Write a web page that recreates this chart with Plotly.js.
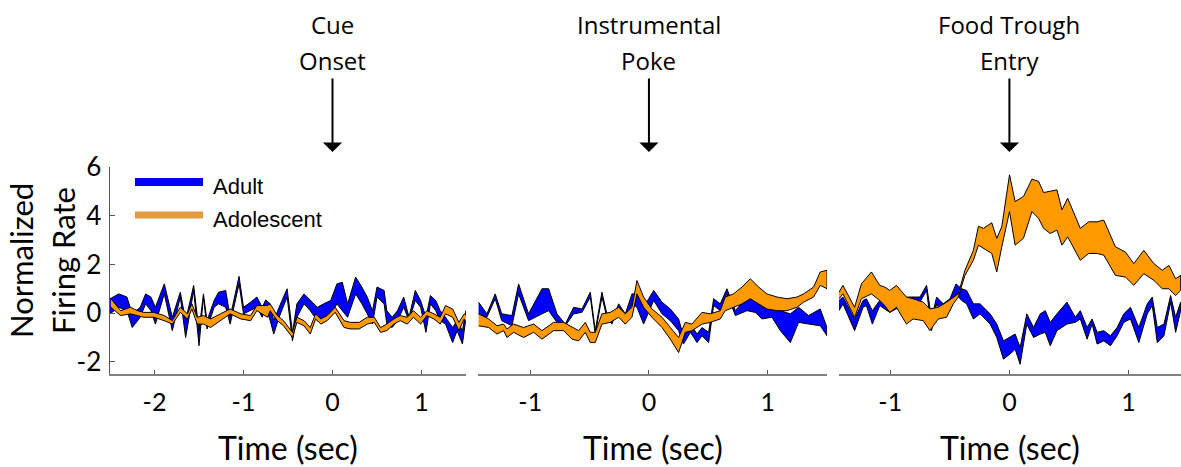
<!DOCTYPE html>
<html>
<head>
<meta charset="utf-8">
<script src="https://cdn.plot.ly/plotly-3.0.1.min.js"></script>
<style>html,body{margin:0;padding:0;background:#fff;}#chart{width:1181px;height:467px;}</style>
</head>
<body>
<div id="chart"></div>
<script>
// ---------- DATA (time in sec, normalized firing rate: upper / lower band edges) ----------
// Panel 1: Cue Onset
const cueAdultT  = [-2.50,-2.40,-2.31,-2.25,-2.16,-2.10,-2.04,-1.99,-1.89,-1.80,-1.71,-1.65,-1.56,-1.50,-1.45,-1.41,-1.33,-1.28,-1.20,-1.15,-1.05,-1.00,-0.92,-0.85,-0.79,-0.75,-0.70,-0.66,-0.60,-0.51,-0.45,-0.40,-0.32,-0.25,-0.17,-0.10,-0.02,0.05,0.11,0.17,0.26,0.33,0.39,0.45,0.50,0.58,0.61,0.67,0.73,0.80,0.86,0.93,0.99,1.05,1.10,1.16,1.21,1.27,1.35,1.40,1.46,1.50];
const cueAdultHi = [0.59,0.79,0.66,-0.03,0.24,0.79,0.66,0.24,1.20,-0.17,0.86,-0.31,1.14,-0.72,0.79,-0.31,0.52,0.86,0.93,-0.17,1.51,0.24,0.45,0.66,0.24,0.54,0.38,-0.31,0.24,1.00,-0.79,0.38,0.79,0.52,0.24,0.38,0.52,1.20,1.27,0.38,1.48,1.07,0.66,0.10,1.07,0.93,0.10,-0.17,0.10,0.66,-0.17,0.93,0.52,-0.17,0.72,0.52,0.10,-0.17,-0.59,-0.31,-0.72,0.10];
const cueAdultLo = [-0.03,0.24,0.10,-0.59,-0.17,0.38,0.10,-0.45,0.79,-0.72,0.66,-1.00,0.93,-1.34,0.66,-0.65,0.24,0.38,0.24,-0.45,1.20,-0.03,0.10,0.24,-0.17,0.24,-0.31,-0.86,-0.17,0.66,-1.14,-0.17,0.38,0.10,-0.31,-0.17,-0.03,0.38,0.10,-0.17,0.79,0.38,-0.03,-0.45,0.66,0.38,-0.45,-0.59,-0.31,0.24,-0.31,0.52,0.24,-0.79,0.38,0.10,-0.31,-0.45,-1.21,-0.72,-1.27,-0.17];

const cueAdolT  = [-2.49,-2.38,-2.27,-2.19,-2.12,-2.01,-1.89,-1.80,-1.71,-1.63,-1.58,-1.52,-1.45,-1.37,-1.26,-1.15,-1.03,-0.92,-0.85,-0.73,-0.70,-0.62,-0.55,-0.45,-0.40,-0.32,-0.25,-0.19,-0.13,-0.06,0.03,0.13,0.20,0.30,0.39,0.47,0.54,0.61,0.69,0.76,0.84,0.91,0.99,1.06,1.14,1.21,1.27,1.35,1.42,1.48,1.51];
const cueAdolHi = [0.59,0.10,0.24,0.10,0.03,0.03,-0.10,-0.31,0.24,-0.03,0.38,-0.17,-0.10,-0.24,-0.03,0.17,-0.03,-0.10,0.31,0.31,0.38,-0.10,-0.31,-0.79,-0.17,-0.31,-0.59,-0.03,-0.24,-0.10,0.24,-0.31,-0.38,-0.38,-0.17,-0.17,-0.59,-0.45,-0.24,-0.10,-0.17,0.10,-0.17,0.10,-0.03,-0.17,0.31,0.17,-0.38,-0.03,-0.10];
const cueAdolLo = [0.24,-0.10,-0.03,-0.10,-0.17,-0.17,-0.31,-0.45,0.03,-0.24,0.17,-0.45,-0.45,-0.59,-0.31,-0.03,-0.24,-0.31,0.10,-0.17,0.10,-0.31,-0.52,-1.00,-0.38,-0.52,-0.86,-0.24,-0.45,-0.31,0.03,-0.59,-0.65,-0.65,-0.45,-0.38,-0.79,-0.72,-0.45,-0.31,-0.45,-0.17,-0.45,-0.10,-0.24,-0.45,-0.03,-0.17,-0.72,-0.24,-0.45];

// Panel 2: Instrumental Poke
const pokeAdultT  = [-1.435,-1.365,-1.295,-1.24,-1.154,-1.098,-1.014,-0.901,-0.845,-0.775,-0.705,-0.634,-0.564,-0.494,-0.452,-0.396,-0.354,-0.312,-0.255,-0.199,-0.143,-0.101,-0.045,0.04,0.11,0.18,0.25,0.29,0.35,0.405,0.447,0.503,0.545,0.601,0.657,0.728,0.826,0.896,0.952,1.036,1.107,1.191,1.261,1.345,1.443,1.50];
const pokeAdultHi = [0.45,-0.03,0.79,-0.03,-0.10,1.20,-0.03,1.00,1.00,-0.03,-0.45,0.24,0.17,0.86,-0.72,0.86,-0.03,-0.31,0.38,-0.03,0.79,0.79,0.24,0.93,0.45,0.17,-0.24,-0.93,-0.45,-0.86,-0.59,-0.79,0.59,0.38,1.00,0.10,0.66,0.66,0.24,0.24,0.10,-0.03,0.24,-0.10,0.17,-0.59];
const pokeAdultLo = [-0.03,-0.17,0.59,-0.31,-0.52,0.79,-0.31,-0.03,0.10,-0.38,-0.52,-0.03,0.03,0.66,-0.86,0.66,-0.17,-0.45,0.24,-0.45,0.38,0.24,-0.45,0.52,-0.03,-0.31,-0.72,-1.27,-0.79,-1.21,-0.93,-1.21,0.31,0.10,0.79,-0.10,0.10,0.03,-0.24,-0.17,-0.72,-1.21,-0.38,-0.45,-0.52,-0.93];

const pokeAdolT  = [-1.435,-1.35,-1.28,-1.224,-1.196,-1.14,-1.056,-0.971,-0.901,-0.803,-0.719,-0.648,-0.592,-0.536,-0.494,-0.452,-0.396,-0.326,-0.255,-0.199,-0.143,-0.101,-0.045,0.025,0.11,0.18,0.25,0.306,0.362,0.447,0.517,0.601,0.643,0.713,0.784,0.854,0.924,0.994,1.079,1.163,1.247,1.303,1.387,1.443,1.50];
const pokeAdolHi = [-0.03,-0.24,-0.52,-0.45,-0.65,-0.45,-0.59,-0.45,-0.72,-0.38,-0.38,-0.59,-0.72,-0.38,-0.79,-0.79,-0.03,0.03,0.24,-0.03,0.24,1.34,0.66,0.17,-0.17,-0.59,-1.00,-0.38,-0.45,0.03,-0.03,0.10,0.66,0.79,1.07,1.41,1.07,0.79,0.66,0.59,0.66,0.79,1.07,1.69,1.76];
const pokeAdolLo = [-0.52,-0.59,-0.86,-0.72,-1.00,-0.79,-1.00,-0.79,-1.07,-0.72,-0.72,-1.07,-1.14,-0.79,-1.21,-1.21,-0.45,-0.38,-0.17,-0.45,-0.17,0.79,0.24,-0.17,-0.59,-1.07,-1.62,-0.79,-0.72,-0.45,-0.38,-0.24,0.10,0.24,0.38,0.59,0.38,0.17,0.10,0.10,0.24,0.45,0.66,1.14,1.00];

// Panel 3: Food Trough Entry
const foodAdultT  = [-1.43,-1.397,-1.299,-1.228,-1.20,-1.15,-1.088,-1.004,-0.85,-0.751,-0.695,-0.653,-0.611,-0.555,-0.499,-0.448,-0.401,-0.359,-0.302,-0.246,-0.162,-0.106,-0.05,0.02,0.048,0.09,0.146,0.203,0.259,0.301,0.343,0.399,0.483,0.553,0.595,0.652,0.694,0.736,0.792,0.848,0.904,0.96,1.016,1.086,1.157,1.199,1.241,1.297,1.353,1.395,1.437];
const foodAdultHi = [0.52,0.66,-0.24,0.52,0.59,0.10,0.52,0.45,0.66,0.66,1.14,-0.24,0.66,0.38,0.59,1.20,1.00,0.93,0.38,0.38,-0.03,-0.45,-1.14,-0.93,-0.86,-1.41,-0.03,-0.59,-0.03,0.10,-0.38,-0.03,0.45,-0.17,0.10,-0.59,-0.24,-0.79,-0.72,-0.93,-0.59,-0.03,0.24,-0.59,0.38,0.66,-0.59,-0.45,0.72,-0.17,0.45];
const foodAdultLo = [0.10,0.38,-0.72,0.24,0.31,-0.45,0.31,0.03,0.45,0.45,0.93,-0.72,0.38,-0.10,0.10,0.79,0.52,0.38,-0.24,-0.03,-0.45,-1.00,-1.89,-1.62,-1.48,-2.10,-0.45,-1.00,-0.86,-0.79,-1.34,-0.72,-0.45,-0.38,-0.24,-1.07,-0.45,-1.27,-1.14,-1.34,-0.93,-0.38,-0.24,-1.21,-0.03,0.31,-1.21,-0.93,0.45,-0.79,0.10];

const foodAdolT  = [-1.43,-1.397,-1.299,-1.242,-1.158,-1.088,-1.046,-1.004,-0.948,-0.864,-0.808,-0.723,-0.667,-0.597,-0.527,-0.471,-0.429,-0.373,-0.302,-0.26,-0.218,-0.148,-0.106,-0.064,0.001,0.048,0.118,0.189,0.245,0.287,0.343,0.399,0.441,0.489,0.595,0.666,0.736,0.792,0.89,0.974,1.044,1.128,1.213,1.283,1.339,1.395,1.437];
const foodAdolHi = [0.86,1.14,0.24,1.20,1.69,1.14,1.07,0.93,1.14,0.66,0.59,0.45,0.17,0.24,0.45,0.66,0.79,1.76,2.58,3.57,3.48,3.71,3.07,3.55,5.68,4.58,4.79,5.50,5.41,4.95,4.99,5.06,4.24,4.72,3.48,3.75,3.75,3.82,2.72,2.51,2.03,2.58,2.03,1.76,1.96,1.41,1.55];
const foodAdolLo = [0.59,0.79,-0.17,0.59,0.79,0.52,0.31,0.03,0.24,-0.45,-0.24,-0.31,-0.72,-0.24,-0.17,0.38,0.66,1.55,2.17,2.79,2.65,2.45,1.69,2.72,4.17,2.79,3.07,4.17,3.89,3.48,3.27,3.41,2.79,3.13,2.17,2.45,2.45,2.38,1.55,1.48,1.14,1.62,1.34,1.00,1.00,0.72,0.93];

const panelTitles = [["Cue","Onset"],["Instrumental","Poke"],["Food Trough","Entry"]];
const seriesNames = ["Adult","Adolescent"];
const yTicks = [-2,0,2,4,6];
const xTicks = [[-2,-1,0,1],[-1,0,1],[-1,0,1]];
const xTitle = "Time (sec)";
const yTitle = ["Normalized","Firing Rate"];

// ---------- STYLE ----------
const W = 1181, H = 467;
const BLUE = "#0000FF", ORANGE = "#FF9900", LEG_ORANGE = "#E39B41";
const AXCOL = "#808080";
const FONT = "Lato, 'Open Sans', sans-serif";
const TFONT = "'Open Sans', Lato, sans-serif";
const px = v => v / W, py = v => 1 - v / H;

function band(t, hi, lo, color, xa, name){
  return {
    type: "scatter", mode: "lines", name: name, showlegend: false,
    x: t.concat(t.slice().reverse()),
    y: hi.concat(lo.slice().reverse()),
    fill: "toself", fillcolor: color,
    line: {color: "#000", width: 1},
    xaxis: xa, yaxis: "y", hoverinfo: "skip"
  };
}

const traces = [
  band(cueAdultT, cueAdultHi, cueAdultLo, BLUE, "x", seriesNames[0]),
  band(cueAdolT, cueAdolHi, cueAdolLo, ORANGE, "x", seriesNames[1]),
  band(pokeAdultT, pokeAdultHi, pokeAdultLo, BLUE, "x2", seriesNames[0]),
  band(pokeAdolT, pokeAdolHi, pokeAdolLo, ORANGE, "x2", seriesNames[1]),
  band(foodAdultT, foodAdultHi, foodAdultLo, BLUE, "x3", seriesNames[0]),
  band(foodAdolT, foodAdolHi, foodAdolLo, ORANGE, "x3", seriesNames[1])
];

const xDomains = [[px(110), px(466)], [px(478), px(827)], [px(839), 1]];
const xRanges = [[-2.5, 1.5], [-1.44, 1.5], [-1.43, 1.44]];

function xaxisDef(i){
  return {
    domain: xDomains[i], range: xRanges[i], anchor: "y",
    showgrid: false, zeroline: false,
    showline: true, linecolor: AXCOL, linewidth: 2,
    ticks: "inside", ticklen: 4, tickwidth: 1, tickcolor: "#555",
    tickvals: xTicks[i], ticktext: xTicks[i].map(String),
    tickfont: {family: FONT, size: 25, color: "#000"},
    ticklabelstandoff: 5,
    fixedrange: true
  };
}

const annotations = [];
const shapes = [];
const axNames = ["x","x2","x3"];
for (let i = 0; i < 3; i++){
  annotations.push({xref: axNames[i], x: 0, yref: "paper", y: py(25), text: panelTitles[i][0],
    showarrow: false, xanchor: "center", yanchor: "middle", font: {family: TFONT, size: 24, color: "#000"}});
  annotations.push({xref: axNames[i], x: 0, yref: "paper", y: py(61), text: panelTitles[i][1],
    showarrow: false, xanchor: "center", yanchor: "middle", font: {family: TFONT, size: 24, color: "#000"}});
  annotations.push({xref: axNames[i], x: 0, yref: "paper", y: py(152), text: "",
    showarrow: true, ax: 0, ay: -75, arrowhead: 1, arrowsize: 1.6, arrowwidth: 2, arrowcolor: "#000"});
  annotations.push({xref: "paper", x: (xDomains[i][0] + xDomains[i][1]) / 2, yref: "paper", y: py(447),
    text: xTitle, showarrow: false, xanchor: "center", yanchor: "middle",
    font: {family: FONT, size: 32, color: "#000"}});
}
annotations.push({xref: "paper", x: px(21), yref: "paper", y: py(261), text: yTitle[0], textangle: -90,
  showarrow: false, xanchor: "center", yanchor: "middle", font: {family: FONT, size: 31, color: "#000"}});
annotations.push({xref: "paper", x: px(63), yref: "paper", y: py(261), text: yTitle[1], textangle: -90,
  showarrow: false, xanchor: "center", yanchor: "middle", font: {family: FONT, size: 31, color: "#000"}});

shapes.push({type: "line", xref: "paper", yref: "paper", x0: px(135), x1: px(203), y0: py(182), y1: py(182),
  line: {color: BLUE, width: 8}});
shapes.push({type: "line", xref: "paper", yref: "paper", x0: px(135), x1: px(203), y0: py(215), y1: py(215),
  line: {color: LEG_ORANGE, width: 7}});
annotations.push({xref: "paper", x: px(211), yref: "paper", y: py(186), text: seriesNames[0], showarrow: false,
  xanchor: "left", yanchor: "middle", font: {family: "'Liberation Sans', Arial, sans-serif", size: 22, color: "#000"}});
annotations.push({xref: "paper", x: px(211), yref: "paper", y: py(219), text: seriesNames[1], showarrow: false,
  xanchor: "left", yanchor: "middle", font: {family: "'Liberation Sans', Arial, sans-serif", size: 22, color: "#000"}});

const layout = {
  width: W, height: H,
  margin: {l: 0, r: 0, t: 0, b: 0, pad: 0},
  paper_bgcolor: "#fff", plot_bgcolor: "rgba(0,0,0,0)",
  showlegend: false,
  xaxis: xaxisDef(0), xaxis2: xaxisDef(1), xaxis3: xaxisDef(2),
  yaxis: {
    domain: [py(374), py(167)], range: [-2.5, 6], anchor: "x",
    showgrid: false, zeroline: false,
    showline: true, linecolor: "#555", linewidth: 1.5,
    ticks: "inside", ticklen: 5, tickwidth: 1, tickcolor: "#555",
    tickvals: yTicks, ticktext: yTicks.map(String),
    tickfont: {family: FONT, size: 26, color: "#000"},
    ticklabelstandoff: 2,
    fixedrange: true
  },
  annotations: annotations,
  shapes: shapes
};

Plotly.newPlot("chart", traces, layout, {displayModeBar: false, staticPlot: true});
</script>
</body>
</html>
